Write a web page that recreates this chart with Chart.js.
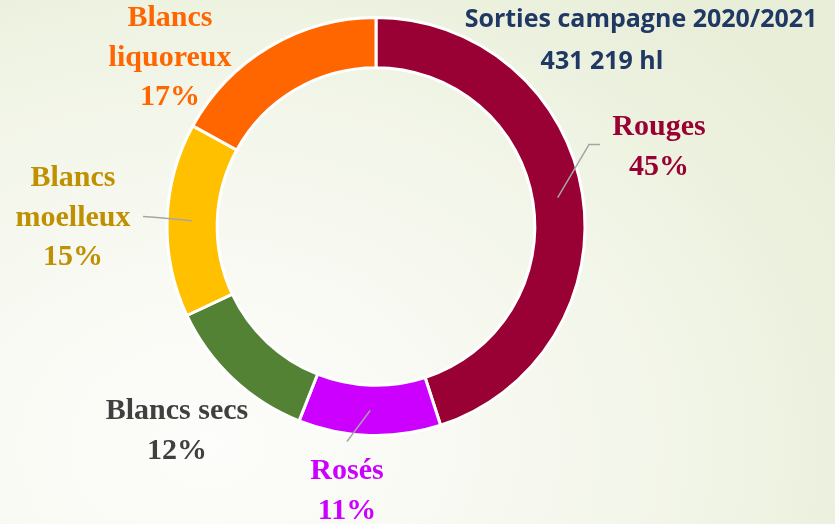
<!DOCTYPE html>
<html>
<head>
<meta charset="utf-8">
<script src="https://cdn.jsdelivr.net/npm/chart.js@4"></script>
<style>
  html, body { margin: 0; padding: 0; }
  body {
    width: 835px; height: 524px; overflow: hidden;
    background: radial-gradient(ellipse 90% 110% at 25% 85%, #fdfdfb 0%, #f6f8ef 45%, #edf2e0 80%, #e8eed8 100%);
  }
  #wrap { position: relative; width: 835px; height: 524px; }
</style>
</head>
<body>
<div id="wrap"><canvas id="sortiesChart"></canvas></div>
<script>
// Sorties campagne 2020/2021
const categories = ['Rouges', 'Rosés', 'Blancs secs', 'Blancs moelleux', 'Blancs liquoreux'];
const shares = [45, 11, 12, 15, 17];
const sliceColors = ['#990033', '#cc00ff', '#548235', '#ffc000', '#ff6600'];
const labelColors = ['#990033', '#cc00ff', '#404040', '#bf9000', '#ff6600'];
const labelLines = [
  ['Rouges'],
  ['Rosés'],
  ['Blancs secs'],
  ['Blancs', 'moelleux'],
  ['Blancs', 'liquoreux']
];
const titleLines = ['Sorties campagne 2020/2021', '431 219 hl'];

// label placement relative to the doughnut centre (text centre of first line, leader points)
const labelPlacement = [
  { dx: 283, dy: -99, leader: [[213, -82], [224, -82]] },
  { dx: -29, dy: 245, leader: [[-29, 215]] },
  { dx: -199, dy: 185, leader: null },
  { dx: -303, dy: -48, leader: [[-219, -9], [-233, -10]] },
  { dx: -206, dy: -208, leader: null }
];

const labelsPlugin = {
  id: 'sliceLabels',
  afterDraw(chart) {
    const ctx = chart.ctx;
    const meta = chart.getDatasetMeta(0);
    ctx.save();
    meta.data.forEach((arc, i) => {
      const p = labelPlacement[i];
      const cx = arc.x, cy = arc.y;
      if (p.leader) {
        const mid = (arc.startAngle + arc.endAngle) / 2;
        const r = (arc.innerRadius + arc.outerRadius) / 2;
        ctx.beginPath();
        ctx.moveTo(cx + Math.cos(mid) * r, cy + Math.sin(mid) * r);
        p.leader.forEach(pt => ctx.lineTo(cx + pt[0], cy + pt[1]));
        ctx.strokeStyle = '#a6a6a6';
        ctx.lineWidth = 1.5;
        ctx.stroke();
      }
      const lines = labelLines[i].concat([shares[i] + '%']);
      ctx.fillStyle = labelColors[i];
      ctx.font = 'bold 30px "Liberation Serif", serif';
      ctx.textAlign = 'center';
      ctx.textBaseline = 'middle';
      lines.forEach((t, k) => ctx.fillText(t, cx + p.dx, cy + p.dy + k * 39.5));
    });
    // title
    ctx.fillStyle = '#203864';
    ctx.font = 'bold 25px "Open Sans", sans-serif';
    ctx.fillText(titleLines[0], 641, 20);
    ctx.fillText(titleLines[1], 602, 62);
    ctx.restore();
  }
};

new Chart(document.getElementById('sortiesChart'), {
  type: 'doughnut',
  data: {
    labels: categories,
    datasets: [{
      data: shares,
      backgroundColor: sliceColors,
      borderColor: '#ffffff',
      borderWidth: 3,
      hoverOffset: 0
    }]
  },
  options: {
    responsive: true,
    maintainAspectRatio: false,
    animation: false,
    cutout: '76%',
    layout: {
      padding: { left: 165, right: 248, top: 16, bottom: 87 }
    },
    plugins: {
      legend: { display: false },
      tooltip: { enabled: false }
    }
  },
  plugins: [labelsPlugin]
});
</script>
</body>
</html>
